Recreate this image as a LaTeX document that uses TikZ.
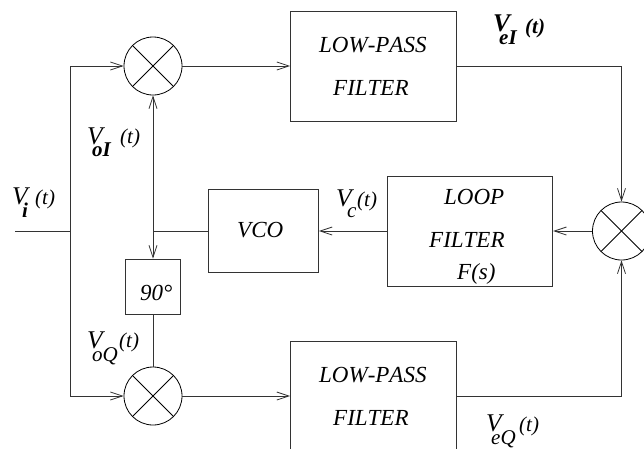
\documentclass[tikz,border=0pt]{standalone}
\usepackage{fontspec}
\setmainfont[Kerning=Off]{Liberation Serif}
\usetikzlibrary{arrows.meta}
\newcommand{\subsz}{\fontsize{21}{21}\selectfont}
\newcommand{\argsz}{\fontsize{21}{21}\selectfont}
\newcommand{\vsz}{\fontsize{25.5}{25.5}\selectfont}
\newcommand{\vlab}[6]{\rlap{\vsz V}\rlap{\kern#1pt\raisebox{-#2pt}{\subsz #3}}\kern#4pt\raisebox{#5pt}{\argsz #6}}
\tikzset{
  wire/.style={line width=0.9pt,draw=black!80},
  arr/.style={wire,-{Straight Barb[length=12pt,width=8pt,line width=0.8pt]}},
  blockbox/.style={draw=black!80,line width=0.9pt,inner sep=0pt,fill=none},
  mixer/.style={circle,draw=black,line width=0.8pt,minimum size=58pt,inner sep=0pt,
    path picture={
      \draw[line width=0.8pt] (path picture bounding box.south west)--(path picture bounding box.north east);
      \draw[line width=0.8pt] (path picture bounding box.north west)--(path picture bounding box.south east);}},
  txt/.style={anchor=base west,inner sep=0pt,font=\fontsize{23}{23}\selectfont\itshape}
}
\begin{document}
\begin{tikzpicture}[x=1pt,y=-1pt]
\useasboundingbox (0,0) rectangle (644,448);
\node[mixer] (mix1) at (153,66) {};
\node[mixer] (mix2) at (153,396) {};
\node[mixer] (mix3) at (621.5,231) {};
\node[blockbox,minimum width=165.5pt,minimum height=110pt] (lpf1) at (373.25,66) {};
\node[blockbox,minimum width=165.5pt,minimum height=110pt] (lpf2) at (373.25,396) {};
\node[blockbox,minimum width=110.5pt,minimum height=82.5pt] (vco) at (263.25,231) {};
\node[blockbox,minimum width=165.5pt,minimum height=110pt] (loop) at (470,231) {};
\node[blockbox,minimum width=55pt,minimum height=55pt] (phase) at (153,286.5) {};
\coordinate (in) at (15,231);
\coordinate (j) at (70,231);
\coordinate (k) at (153,231);
\draw[wire] (in) -- (j);
\draw[arr] (j) |- (mix1.west);
\draw[arr] (j) |- (mix2.west);
\draw[arr] (mix1.east) -- (lpf1.west);
\draw[arr] (mix2.east) -- (lpf2.west);
\draw[arr] (lpf1.east) -| (mix3.north);
\draw[arr] (lpf2.east) -| (mix3.south);
\draw[arr] (mix3.west) -- (loop.east);
\draw[arr] (loop.west) -- (vco.east);
\draw[wire] (vco.west) -- (k);
\draw[arr] (k) -- (mix1.south);
\draw[arr] (k) -- (phase.north);
\draw[wire] (phase.south) -- (mix2.north);
\node[txt] (t1) at (319,52) {LOW-PASS};
\node[txt] (t2) at (333,95) {FILTER};
\node[txt] (t3) at (319,382) {LOW-PASS};
\node[txt] (t4) at (333,425) {FILTER};
\node[txt] (t5) at (237,237) {VCO};
\node[txt] (t6) at (444,204) {LOOP};
\node[txt] (t7) at (429,247) {FILTER};
\node[txt] (t8) at (457,279) {F(s)};
\node[txt] (t9) at (140,300) {90°};
\node[txt] (vi) at (12,204) {\vlab{10}{13}{\bfseries i}{23}{0}{(t)}};
\node[txt] (voi) at (87,144) {\vlab{5}{12}{\bfseries oI}{33}{1}{(t)}};
\node[txt] (voq) at (87,348) {\vlab{5}{13}{oQ}{32}{1}{(t)}};
\node[txt] (vei) at (493,31) {\bfseries\vlab{6}{13}{\bfseries eI}{32}{-2}{\bfseries (t)}};
\node[txt] (vc) at (336,206) {\vlab{11}{11}{c}{21}{0}{(t)}};
\node[txt] (veq) at (486,431) {\vlab{5}{13}{eQ}{33}{0}{(t)}};
\end{tikzpicture}
\end{document}
